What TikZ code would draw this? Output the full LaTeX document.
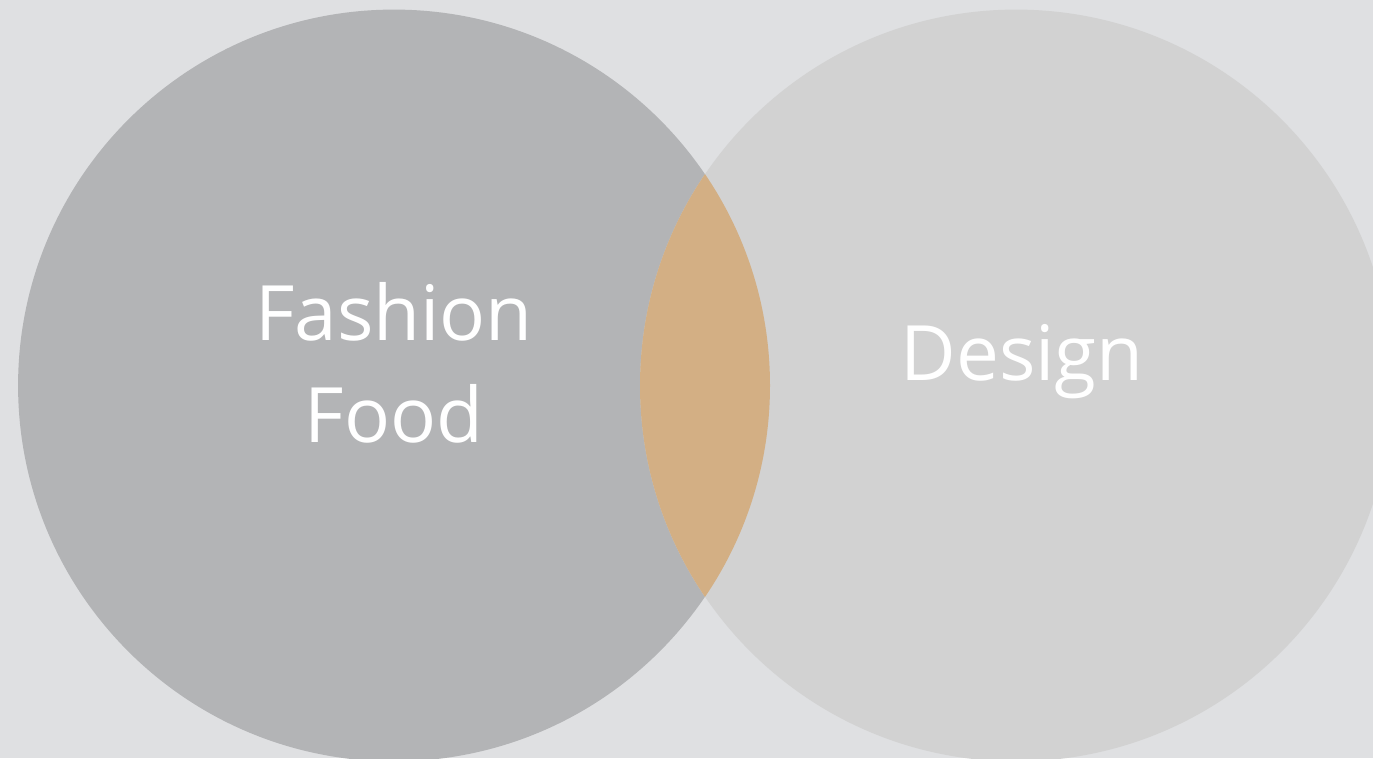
\documentclass[tikz,border=0pt]{standalone}
\usepackage{fontspec}
\setmainfont{Open Sans}
\usepackage{tikz}
\usetikzlibrary{positioning}

\definecolor{bgGrey}{HTML}{DFE0E2}
\definecolor{darkCircle}{HTML}{B3B4B6}
\definecolor{lightCircle}{HTML}{D2D2D2}
\definecolor{lensTan}{HTML}{D3AF84}

\begin{document}
\begin{tikzpicture}[x=0.02cm,y=-0.02cm,
    setcircle/.style={circle, inner sep=0pt, minimum size=15.04cm},
    label/.style={text=white, font=\fontsize{43.5}{58}\selectfont, align=center}]
    \useasboundingbox (0,0) rectangle (1373,758);
    \clip (0,0) rectangle (1373,758);
    \fill[bgGrey] (0,0) rectangle (1373,758);
    \node[setcircle, fill=darkCircle] (fashion) at (394,385.5) {};
    \node[setcircle, fill=lightCircle] (design) at (1016,385.5) {};
    % overlap
    \begin{scope}
        \clip (fashion.center) circle (376);
        \fill[lensTan] (design.center) circle (376);
    \end{scope}
    \node[label] (fashionText) at (394,363) {Fashion\\Food};
    \node[label] (designText) at (1022,362) {Design};
\end{tikzpicture}
\end{document}
